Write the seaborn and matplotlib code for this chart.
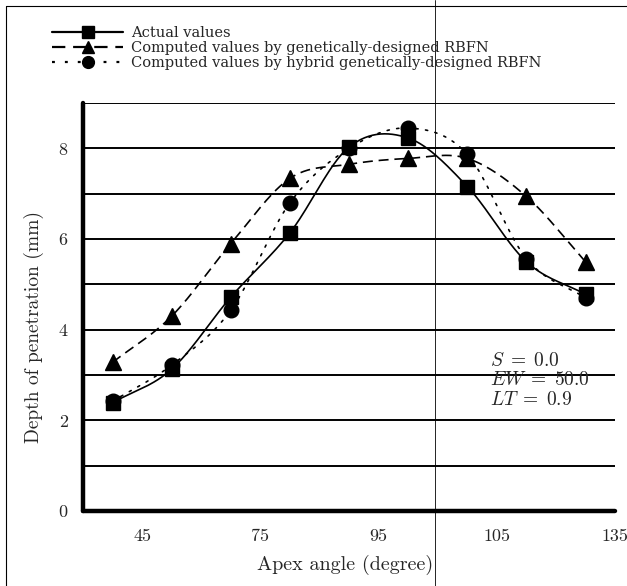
import numpy as np
import pandas as pd
import matplotlib
matplotlib.use("Agg")
import matplotlib.pyplot as plt
from matplotlib.lines import Line2D
import seaborn as sns

# ---- data ----
positions = [0.5, 1.5, 2.5, 3.5, 4.5, 5.5, 6.5, 7.5, 8.5]
actual = [2.39, 3.13, 4.72, 6.14, 8.03, 8.23, 7.16, 5.50, 4.78]
genetic = [3.28, 4.30, 5.90, 7.34, 7.65, 7.78, 7.78, 6.94, 5.50]
hybrid = [2.42, 3.22, 4.43, 6.80, 8.00, 8.45, 7.87, 5.57, 4.70]
xtick_pos = [1, 3, 5, 7, 9]
xtick_labels = ["45", "75", "95", "105", "135"]
series_names = ["Actual values",
                "Computed values by genetically-designed RBFN",
                "Computed values by hybrid genetically-designed RBFN"]

sns.set_style("white")
plt.rcParams["font.family"] = ["cmr10", "DejaVu Serif"]
plt.rcParams["mathtext.fontset"] = "cm"
plt.rcParams["axes.formatter.use_mathtext"] = True
plt.rcParams["axes.unicode_minus"] = False


def smooth(x, y, n=30):
    """Catmull-Rom curve through the points, used only for drawing the line."""
    x = np.asarray(x, float)
    y = np.asarray(y, float)
    px = np.concatenate([[2 * x[0] - x[1]], x, [2 * x[-1] - x[-2]]])
    py = np.concatenate([[2 * y[0] - y[1]], y, [2 * y[-1] - y[-2]]])
    xs, ys = [], []
    t = np.linspace(0, 1, n, endpoint=False)
    for i in range(1, len(px) - 2):
        for arr, out in ((px, xs), (py, ys)):
            p0, p1, p2, p3 = arr[i - 1], arr[i], arr[i + 1], arr[i + 2]
            out.extend(0.5 * ((2 * p1) + (-p0 + p2) * t
                              + (2 * p0 - 5 * p1 + 4 * p2 - p3) * t ** 2
                              + (-p0 + 3 * p1 - 3 * p2 + p3) * t ** 3))
    xs.append(x[-1])
    ys.append(y[-1])
    return np.array(xs), np.array(ys)


fig = plt.figure(figsize=(6.27, 5.86), dpi=100)
ax = fig.add_axes([0.1324, 0.128, 0.981 - 0.1324, 0.824 - 0.128])

# horizontal grid lines
for yv in range(1, 10):
    ax.axhline(yv, color="black", lw=1.4, zorder=1)

styles = [
    dict(ls="-", dashes=None, marker="s", ms=10.5),
    dict(ls="--", dashes=(6, 3.5), marker="^", ms=11.5),
    dict(ls=":", dashes=(1.3, 4.5), marker="o", ms=10.5),
]
all_y = [actual, genetic, hybrid]
for vals, st in zip(all_y, styles):
    sx, sy = smooth(positions, vals)
    line_df = pd.DataFrame({"x": sx, "y": sy})
    sns.lineplot(data=line_df, x="x", y="y", ax=ax, sort=False,
                 estimator=None, legend=False, color="black", lw=1.2, zorder=2)
    ln = ax.lines[-1]
    if st["dashes"] is not None:
        ln.set_dashes(st["dashes"])
        if st["ls"] == ":":
            ln.set_dash_capstyle("round")
    pts = pd.DataFrame({"x": positions, "y": vals})
    ax.plot(pts["x"], pts["y"], ls="none", marker=st["marker"], ms=st["ms"],
            color="black", mec="black", zorder=3)

ax.set_xlim(0, 9)
ax.set_ylim(0, 9)
ax.set_xticks(range(1, 10))
ax.set_xticklabels(["" if i not in xtick_pos else xtick_labels[xtick_pos.index(i)]
                    for i in range(1, 10)])
ax.set_yticks(range(0, 10))
ax.set_yticklabels([str(v) if v % 2 == 0 and v < 9 else "" for v in range(0, 10)])
ax.tick_params(axis="both", direction="out", length=5, width=3, color="black",
               labelsize=13, pad=6)
ax.tick_params(axis="x", pad=8)

for side in ["top", "right"]:
    ax.spines[side].set_visible(False)
for side in ["left", "bottom"]:
    ax.spines[side].set_linewidth(3.2)
    ax.spines[side].set_color("black")
    ax.spines[side].set_capstyle("round")

ax.set_xlabel("Apex angle (degree)", fontsize=14.5)
ax.set_ylabel("Depth of penetration (mm)", fontsize=14)
ax.xaxis.set_label_coords(0.492, -0.108)
ax.yaxis.set_label_coords(-0.073, 0.45)

ax.text(0.765, 0.32, "$S\\;=\\;0.0$\n$EW\\;=\\;50.0$\n$LT\\;=\\;0.9$",
        transform=ax.transAxes, fontsize=14, va="center", ha="left",
        linespacing=1.1, zorder=5)

handles = []
for st in styles:
    h = Line2D([0], [0], color="black", lw=1.6, ls=st["ls"],
               marker=st["marker"], ms=8.5)
    if st["dashes"] is not None:
        h.set_dashes(st["dashes"])
    handles.append(h)
fig.legend(handles, series_names, loc="upper left",
           bbox_to_anchor=(0.083, 0.955), frameon=False,
           prop={"family": "DejaVu Serif", "size": 10.5},
           handlelength=4.9, handletextpad=0.5, labelspacing=0.05,
           borderpad=0, borderaxespad=0)

# scan frame lines visible in the reference
fig.add_artist(Line2D([0.010, 0.010], [0.0, 0.99], color="black", lw=0.8,
                      transform=fig.transFigure))
fig.add_artist(Line2D([0.010, 1.0], [0.99, 0.99], color="black", lw=0.8,
                      transform=fig.transFigure))
fig.add_artist(Line2D([435 / 627, 435 / 627], [0.0, 1.0], color="black",
                      lw=0.6, transform=fig.transFigure))

fig.savefig("out.png", dpi=100, facecolor="white")
